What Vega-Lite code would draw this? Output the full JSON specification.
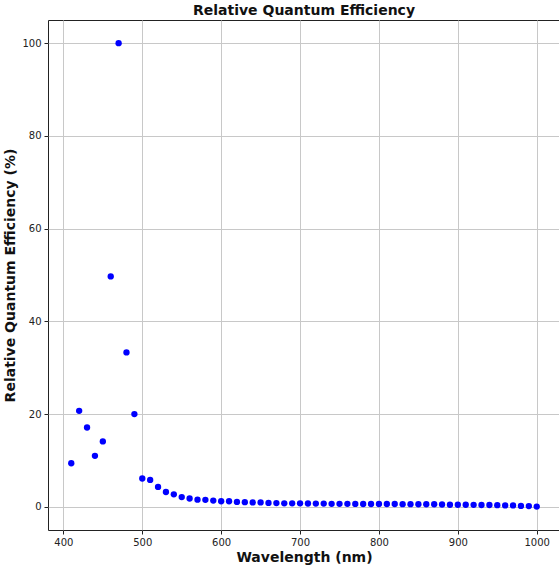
{
  "$schema": "https://vega.github.io/schema/vega-lite/v6.json",
  "autosize": "none",
  "padding": {"left": 48, "top": 20, "right": 0, "bottom": 36},
  "width": 512,
  "height": 510,
  "background": "white",
  "config": {
    "font": "DejaVu Sans",
    "view": {"stroke": "#222", "strokeWidth": 1},
    "axis": {
      "labelFont": "DejaVu Sans", "labelFontSize": 10, "labelColor": "#222",
      "titleFont": "DejaVu Sans", "titleFontSize": 14, "titleFontWeight": "bold", "titleColor": "#111",
      "gridColor": "#c8c8c8", "gridWidth": 1, "domain": false,
      "tickColor": "#222", "tickSize": 4, "labelPadding": 3
    }
  },
  "title": {"text": "Relative Quantum Efficiency", "font": "DejaVu Sans", "fontSize": 14, "fontWeight": "bold", "color": "#111", "offset": 2},
  "data": {"values": [
    {"wl": 410, "qe": 9.4}, {"wl": 420, "qe": 20.7}, {"wl": 430, "qe": 17.1}, {"wl": 440, "qe": 11.0},
    {"wl": 450, "qe": 14.1}, {"wl": 460, "qe": 49.7}, {"wl": 470, "qe": 100}, {"wl": 480, "qe": 33.3},
    {"wl": 490, "qe": 20.0}, {"wl": 500, "qe": 6.1}, {"wl": 510, "qe": 5.8}, {"wl": 520, "qe": 4.3},
    {"wl": 530, "qe": 3.2}, {"wl": 540, "qe": 2.7}, {"wl": 550, "qe": 2.1}, {"wl": 560, "qe": 1.8},
    {"wl": 570, "qe": 1.55}, {"wl": 580, "qe": 1.5}, {"wl": 590, "qe": 1.35}, {"wl": 600, "qe": 1.2},
    {"wl": 610, "qe": 1.2}, {"wl": 620, "qe": 1.05}, {"wl": 630, "qe": 1.0}, {"wl": 640, "qe": 0.95},
    {"wl": 650, "qe": 0.95}, {"wl": 660, "qe": 0.85}, {"wl": 670, "qe": 0.8}, {"wl": 680, "qe": 0.75},
    {"wl": 690, "qe": 0.75}, {"wl": 700, "qe": 0.75}, {"wl": 710, "qe": 0.72}, {"wl": 720, "qe": 0.7},
    {"wl": 730, "qe": 0.7}, {"wl": 740, "qe": 0.65}, {"wl": 750, "qe": 0.65}, {"wl": 760, "qe": 0.65},
    {"wl": 770, "qe": 0.63}, {"wl": 780, "qe": 0.6}, {"wl": 790, "qe": 0.6}, {"wl": 800, "qe": 0.6},
    {"wl": 810, "qe": 0.6}, {"wl": 820, "qe": 0.6}, {"wl": 830, "qe": 0.58}, {"wl": 840, "qe": 0.58},
    {"wl": 850, "qe": 0.55}, {"wl": 860, "qe": 0.55}, {"wl": 870, "qe": 0.55}, {"wl": 880, "qe": 0.5},
    {"wl": 890, "qe": 0.45}, {"wl": 900, "qe": 0.45}, {"wl": 910, "qe": 0.45}, {"wl": 920, "qe": 0.43},
    {"wl": 930, "qe": 0.4}, {"wl": 940, "qe": 0.4}, {"wl": 950, "qe": 0.35}, {"wl": 960, "qe": 0.3},
    {"wl": 970, "qe": 0.3}, {"wl": 980, "qe": 0.2}, {"wl": 990, "qe": 0.15}, {"wl": 1000, "qe": 0.05}
  ]},
  "mark": {"type": "point", "filled": true, "shape": "circle", "size": 40, "color": "#0000ff", "opacity": 1},
  "encoding": {
    "x": {"field": "wl", "type": "quantitative", "title": "Wavelength (nm)",
      "scale": {"domain": [380.5, 1029.5], "nice": false, "zero": false},
      "axis": {"values": [400, 500, 600, 700, 800, 900, 1000], "format": "d", "titlePadding": 3}},
    "y": {"field": "qe", "type": "quantitative", "title": "Relative Quantum Efficiency (%)",
      "scale": {"domain": [-5.0, 105.0], "nice": false, "zero": false},
      "axis": {"values": [0, 20, 40, 60, 80, 100], "format": "d", "titlePadding": 4}}
  }
}
